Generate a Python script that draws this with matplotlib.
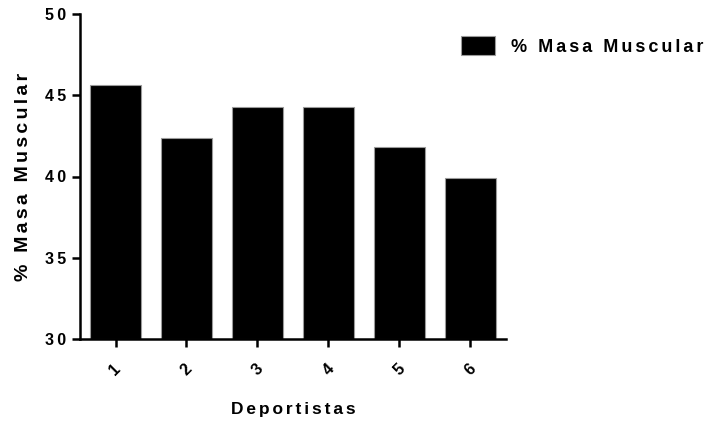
import matplotlib
matplotlib.use("Agg")
import matplotlib.pyplot as plt

plt.rcParams['font.family'] = ['Liberation Sans', 'DejaVu Sans']

# Data
deportistas = ["1", "2", "3", "4", "5", "6"]
masa_muscular = [45.6, 42.4, 44.25, 44.25, 41.8, 39.9]
y_ticks = [30, 35, 40, 45, 50]


def spaced(s, sp="\u2006"):
    """Widen letter spacing by putting a narrow space between characters."""
    return sp.join(s)


W, H = 705, 425
fig = plt.figure(figsize=(W / 100, H / 100), dpi=100)
ax = fig.add_axes([80 / W, 1 - 339 / H, (506 - 80) / W, (339 - 14) / H])

x = list(range(1, len(deportistas) + 1))
bottom = y_ticks[0]
heights = [v - bottom for v in masa_muscular]
ax.bar(x, heights, bottom=bottom, width=0.72, color="black",
       edgecolor="#9a9a9a", linewidth=0.8, label=spaced("% Masa Muscular"))

ax.set_xlim(0.5, 6.5)
ax.set_ylim(30, 50)
ax.set_yticks(y_ticks)
ax.set_xticks(x)
ax.set_yticklabels([spaced(str(t), "\u2009") for t in y_ticks],
                   fontsize=11.5, fontweight="bold")
ax.set_xticklabels(deportistas, rotation=45, fontsize=11.5, fontweight="bold",
                   ha="center", va="top")

for side in ("top", "right"):
    ax.spines[side].set_visible(False)
for side in ("left", "bottom"):
    ax.spines[side].set_linewidth(1.8)
ax.tick_params(axis="both", direction="out", length=6, width=1.8, pad=4)
ax.tick_params(axis="x", pad=10)

ax.set_ylabel(spaced("% Masa Muscular"), fontsize=14, fontweight="bold", labelpad=9)
ax.set_xlabel(spaced("Deportistas"), fontsize=12.5, fontweight="bold", labelpad=17)

leg = fig.legend(loc="center left", bbox_to_anchor=(461 / W, 1 - 46 / H),
                 frameon=False, prop={"size": 13, "weight": "bold"},
                 handlelength=1.9, handleheight=1.25, handletextpad=0.85,
                 borderpad=0, borderaxespad=0)

fig.savefig("out.png", dpi=100)
